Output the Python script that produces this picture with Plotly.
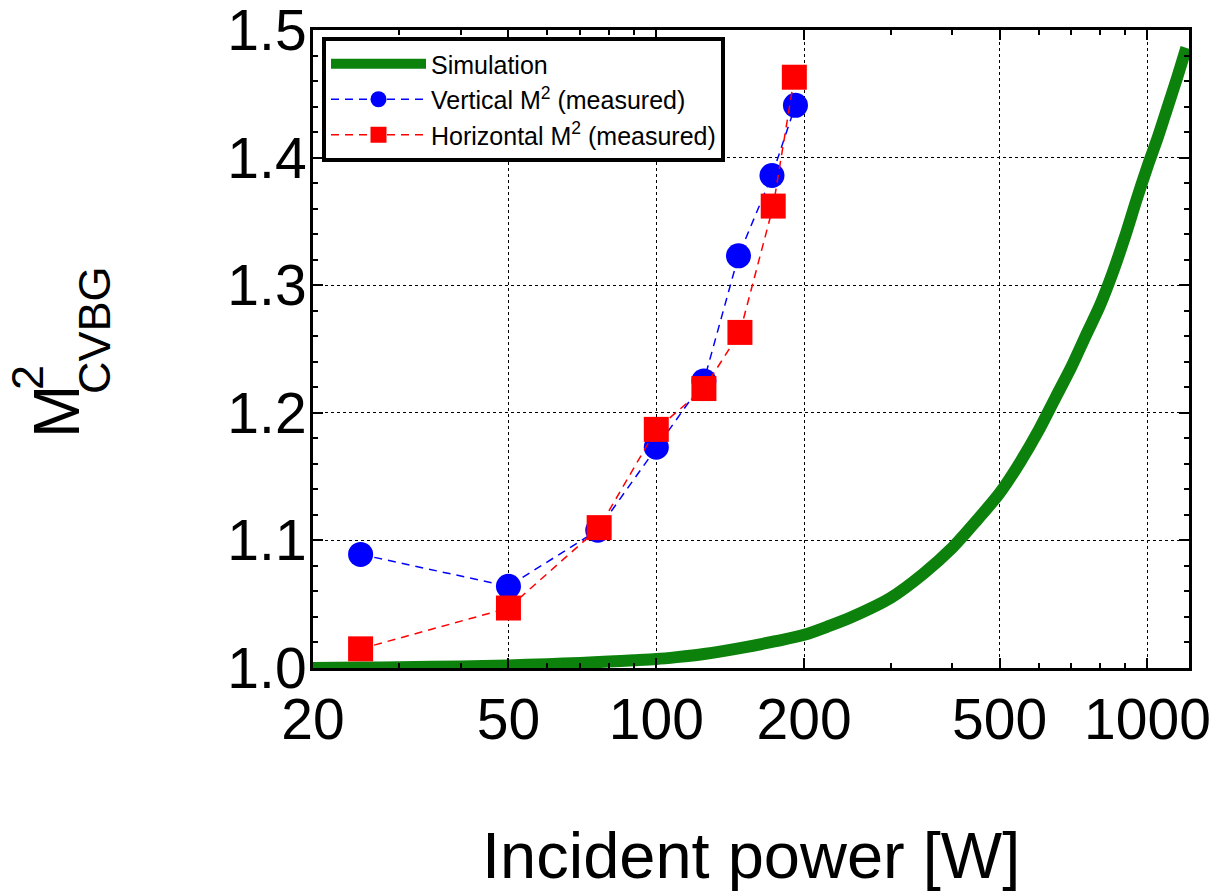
import numpy as np
import plotly.graph_objects as go

# ---- data ----
sim_power = [20, 25, 30, 40, 50, 60, 70, 80, 90, 100, 110, 125, 150, 175, 200, 225, 250,
             300, 350, 400, 450, 500, 550, 600, 650, 700, 750, 800, 850, 900, 950, 1000,
             1050, 1100, 1150, 1200]
sim_m2 = [1.000, 1.0003, 1.0006, 1.0012, 1.002, 1.003, 1.004, 1.005, 1.006, 1.007, 1.0085,
          1.011, 1.016, 1.021, 1.026, 1.033, 1.040, 1.055, 1.074, 1.094, 1.116, 1.137,
          1.161, 1.186, 1.212, 1.236, 1.261, 1.284, 1.310, 1.338, 1.367, 1.393, 1.416,
          1.440, 1.463, 1.486]

vert_power = [25, 50, 76, 100, 125, 147, 172, 192]
vert_m2 = [1.089, 1.064, 1.108, 1.173, 1.225, 1.323, 1.386, 1.441]

horz_power = [25, 50, 76.5, 100, 125, 148, 173, 191]
horz_m2 = [1.015, 1.047, 1.110, 1.187, 1.219, 1.263, 1.362, 1.463]

x_ticks = [20, 50, 100, 200, 500, 1000]
x_minor = [30, 40, 60, 70, 80, 90, 300, 400, 600, 700, 800, 900]
y_ticks = [1.0, 1.1, 1.2, 1.3, 1.4, 1.5]
y_ticktext = ["1.0", "1.1", "1.2", "1.3", "1.4", "1.5"]

FONT = "Liberation Sans, Arial, sans-serif"

fig = go.Figure()
fig.add_trace(go.Scatter(
    x=sim_power, y=sim_m2, mode="lines", name="Simulation",
    line=dict(color="rgb(12,130,12)", width=12, shape="spline", smoothing=0.8)))
fig.add_trace(go.Scatter(
    x=vert_power, y=vert_m2, mode="lines+markers", name="Vertical M<sup>2</sup> (measured)",
    line=dict(color="blue", width=1.5, dash="8px,6px"),
    marker=dict(symbol="circle", size=25, color="blue")))
fig.add_trace(go.Scatter(
    x=horz_power, y=horz_m2, mode="lines+markers", name="Horizontal M<sup>2</sup> (measured)",
    line=dict(color="red", width=1.5, dash="8px,6px"),
    marker=dict(symbol="square", size=25, color="red")))

L, R, T, B = 313, 42, 30, 227
W, H = 1231, 895
pw, ph = W - L - R, H - T - B

def px2paper(px, py):
    return (px - L) / pw, (H - B - py) / ph

fig.update_layout(
    width=W, height=H,
    margin=dict(l=L, r=R, t=T, b=B, autoexpand=False),
    paper_bgcolor="white", plot_bgcolor="white",
    font=dict(family=FONT, color="black"),
    showlegend=True,
    legend=dict(
        x=px2paper(322, 0)[0], y=px2paper(0, 37)[1], xanchor="left", yanchor="top",
        bgcolor="white", bordercolor="black", borderwidth=4,
        font=dict(size=25, family=FONT), itemwidth=95, tracegroupgap=0,
    ),
    xaxis=dict(
        type="log", range=[np.log10(20), np.log10(1215)], automargin=False,
        tickvals=x_ticks, ticktext=[str(v) for v in x_ticks],
        tickfont=dict(size=57), ticks="inside", ticklen=10, tickwidth=1.5, tickcolor="black",
        showline=True, linecolor="black", linewidth=3, mirror="allticks",
        showgrid=True, gridcolor="black", griddash="dot", gridwidth=1,
        minor=dict(tickvals=x_minor, ticks="inside", ticklen=5, tickcolor="black", showgrid=False),
        zeroline=False, ticklabelstandoff=0,
    ),
    yaxis=dict(
        range=[0.99999, 1.50001], tickvals=y_ticks, ticktext=y_ticktext, automargin=False,
        tickfont=dict(size=57), ticks="inside", ticklen=10, tickwidth=1.5, tickcolor="black",
        showline=True, linecolor="black", linewidth=3, mirror="allticks",
        showgrid=True, gridcolor="black", griddash="dot", gridwidth=1,
        minor=dict(dtick=0.02, tick0=1.0, ticks="inside", ticklen=5, tickcolor="black", showgrid=False),
        zeroline=False, ticklabelstandoff=-8, ticklabeloverflow="allow",
    ),
)

ann = []
x, y = px2paper(751, 855)
ann.append(dict(text="Incident power [W]", x=x, y=y, xref="paper", yref="paper",
                xanchor="center", yanchor="middle", showarrow=False,
                font=dict(size=65, family=FONT)))
x, y = px2paper(57, 412)
ann.append(dict(text="M", x=x, y=y, xref="paper", yref="paper", textangle=-90,
                xanchor="center", yanchor="middle", showarrow=False,
                font=dict(size=64, family=FONT)))
x, y = px2paper(27, 378)
ann.append(dict(text="2", x=x, y=y, xref="paper", yref="paper", textangle=-90,
                xanchor="center", yanchor="middle", showarrow=False,
                font=dict(size=45, family=FONT)))
x, y = px2paper(94, 330)
ann.append(dict(text="CVBG", x=x, y=y, xref="paper", yref="paper", textangle=-90,
                xanchor="center", yanchor="middle", showarrow=False,
                font=dict(size=45, family=FONT)))
fig.update_layout(annotations=ann)

fig.write_html("out.html")
